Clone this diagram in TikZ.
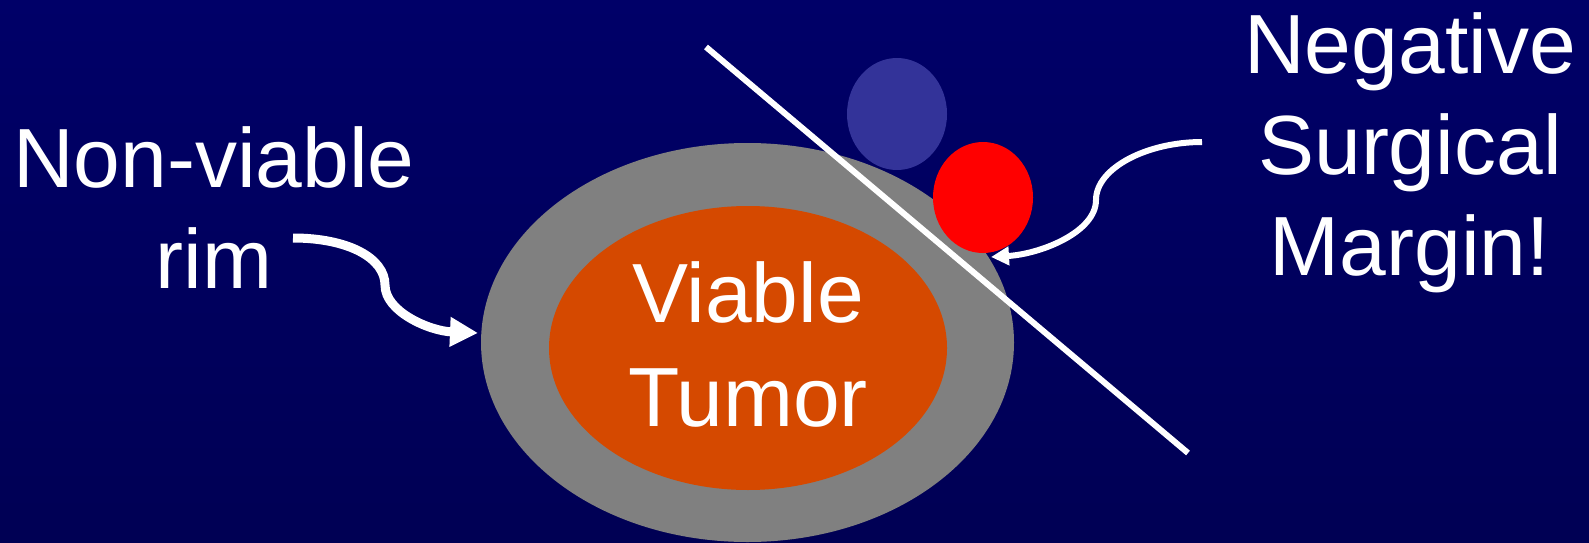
\documentclass[tikz,border=0pt]{standalone}
\usepackage{fontspec}
\setmainfont{Liberation Sans}
\usetikzlibrary{arrows.meta, positioning}
\definecolor{slidenavy}{RGB}{0,0,104}
\definecolor{slidenavydark}{RGB}{0,0,84}
\definecolor{rimgray}{RGB}{128,128,128}
\definecolor{tumororange}{RGB}{213,73,0}
\definecolor{cellblue}{RGB}{51,51,153}
\tikzset{
  bigtext/.style={text=white, align=center, inner sep=0pt,
    font=\fontsize{84}{101}\selectfont},
  rimpointer/.style={white, line width=9pt, -{Triangle[length=28pt, width=28pt]}},
  marginpointer/.style={white, line width=6pt, -{Triangle[length=18pt, width=18pt]}},
}

\begin{document}
\begin{tikzpicture}[x=1pt, y=-1pt]
  \useasboundingbox (0,0) rectangle (1589,543);
  \shade[top color=slidenavy, bottom color=slidenavydark] (0,0) rectangle (1589,543);
  % tumour and cells
  \fill[rimgray] (747.5,342.5) ellipse (266.5 and 199.5);
  \fill[tumororange] (748,348) ellipse (199 and 142);
  \fill[cellblue] (897,114) ellipse (50 and 56);
  \fill[red] (983,197.5) ellipse (50 and 55.5);
  % resection line
  \draw[white, line width=6pt] (706,47) -- (1188,453);
  % texts (base = last line)
  \node[bigtext, anchor=base] (core) at (748,426) {Viable\\[3pt]Tumor};
  \node[bigtext, anchor=base] (rim) at (214,288) {Non-viable\\rim};
  \node[bigtext, anchor=base] (margin) at (1410,275) {Negative\\Surgical\\Margin!};
  % pointers
  \coordinate (rimfrom) at (293,238);
  \coordinate (rimto) at (478,333);
  \draw[rimpointer] (rimfrom) .. controls +(55,0) and +(0,-27) .. (385,285)
    .. controls +(0,27) and +(-48,-2) .. (rimto);
  \coordinate (marginfrom) at (1202,142);
  \coordinate (marginto) at (991,257);
  \draw[marginpointer] (marginfrom) .. controls +(-55,0) and +(0,-32) .. (1096,200)
    .. controls +(0,32) and +(50,-3) .. (marginto);
\end{tikzpicture}
\end{document}
